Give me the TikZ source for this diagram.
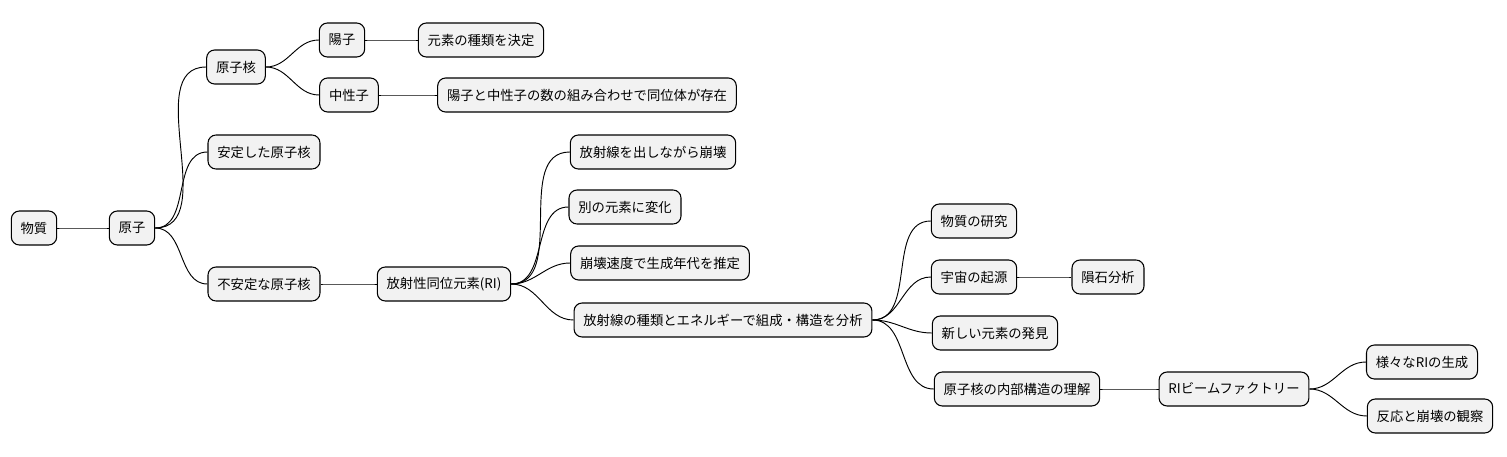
\documentclass[tikz,border=0pt]{standalone}
\usepackage{fontspec}
\newfontfamily\jp{Noto Sans CJK JP}
\begin{document}
\begin{tikzpicture}[x=0.75pt,y=-0.75pt,
  nd/.style={draw=black,fill=gray!10,rounded corners=6pt,line width=0.8pt,minimum height=25.5pt,inner xsep=7pt,font=\jp\fontsize{10}{12}\selectfont},
  ln/.style={line width=0.7pt}]
\useasboundingbox (0,0) rectangle (1507,457);
\node[nd] (a) at (34,228) {物質};
\node[nd] (b) at (132,228) {原子};
\node[nd] (c) at (236,67) {原子核};
\node[nd] (d) at (342,40) {陽子};
\node[nd] (e) at (481,40) {元素の種類を決定};
\node[nd] (f) at (349,95) {中性子};
\node[nd] (g) at (587,95) {陽子と中性子の数の組み合わせで同位体が存在};
\node[nd] (h) at (264,152) {安定した原子核};
\node[nd] (i) at (264,284) {不安定な原子核};
\node[nd] (j) at (444,284) {放射性同位元素(RI)};
\node[nd] (k) at (653,152) {放射線を出しながら崩壊};
\node[nd] (l) at (625,207) {別の元素に変化};
\node[nd] (m) at (660,263) {崩壊速度で生成年代を推定};
\node[nd] (n) at (723,320) {放射線の種類とエネルギーで組成・構造を分析};
\node[nd] (o) at (974,221) {物質の研究};
\node[nd] (p) at (974,277) {宇宙の起源};
\node[nd] (q) at (1108,277) {隕石分析};
\node[nd] (r) at (995,333) {新しい元素の発見};
\node[nd] (s) at (1017,389) {原子核の内部構造の理解};
\node[nd] (t) at (1234,389) {RIビームファクトリー};
\node[nd] (u) at (1422,362) {様々なRIの生成};
\node[nd] (v) at (1430,416) {反応と崩壊の観察};
\foreach \p/\c in {a/b,b/c,c/d,d/e,c/f,f/g,b/h,b/i,i/j,j/k,j/l,j/m,j/n,n/o,n/p,p/q,n/r,n/s,s/t,t/u,t/v}
  \draw[ln] (\p.east) to[out=0,in=180] (\c.west);
\end{tikzpicture}
\end{document}
